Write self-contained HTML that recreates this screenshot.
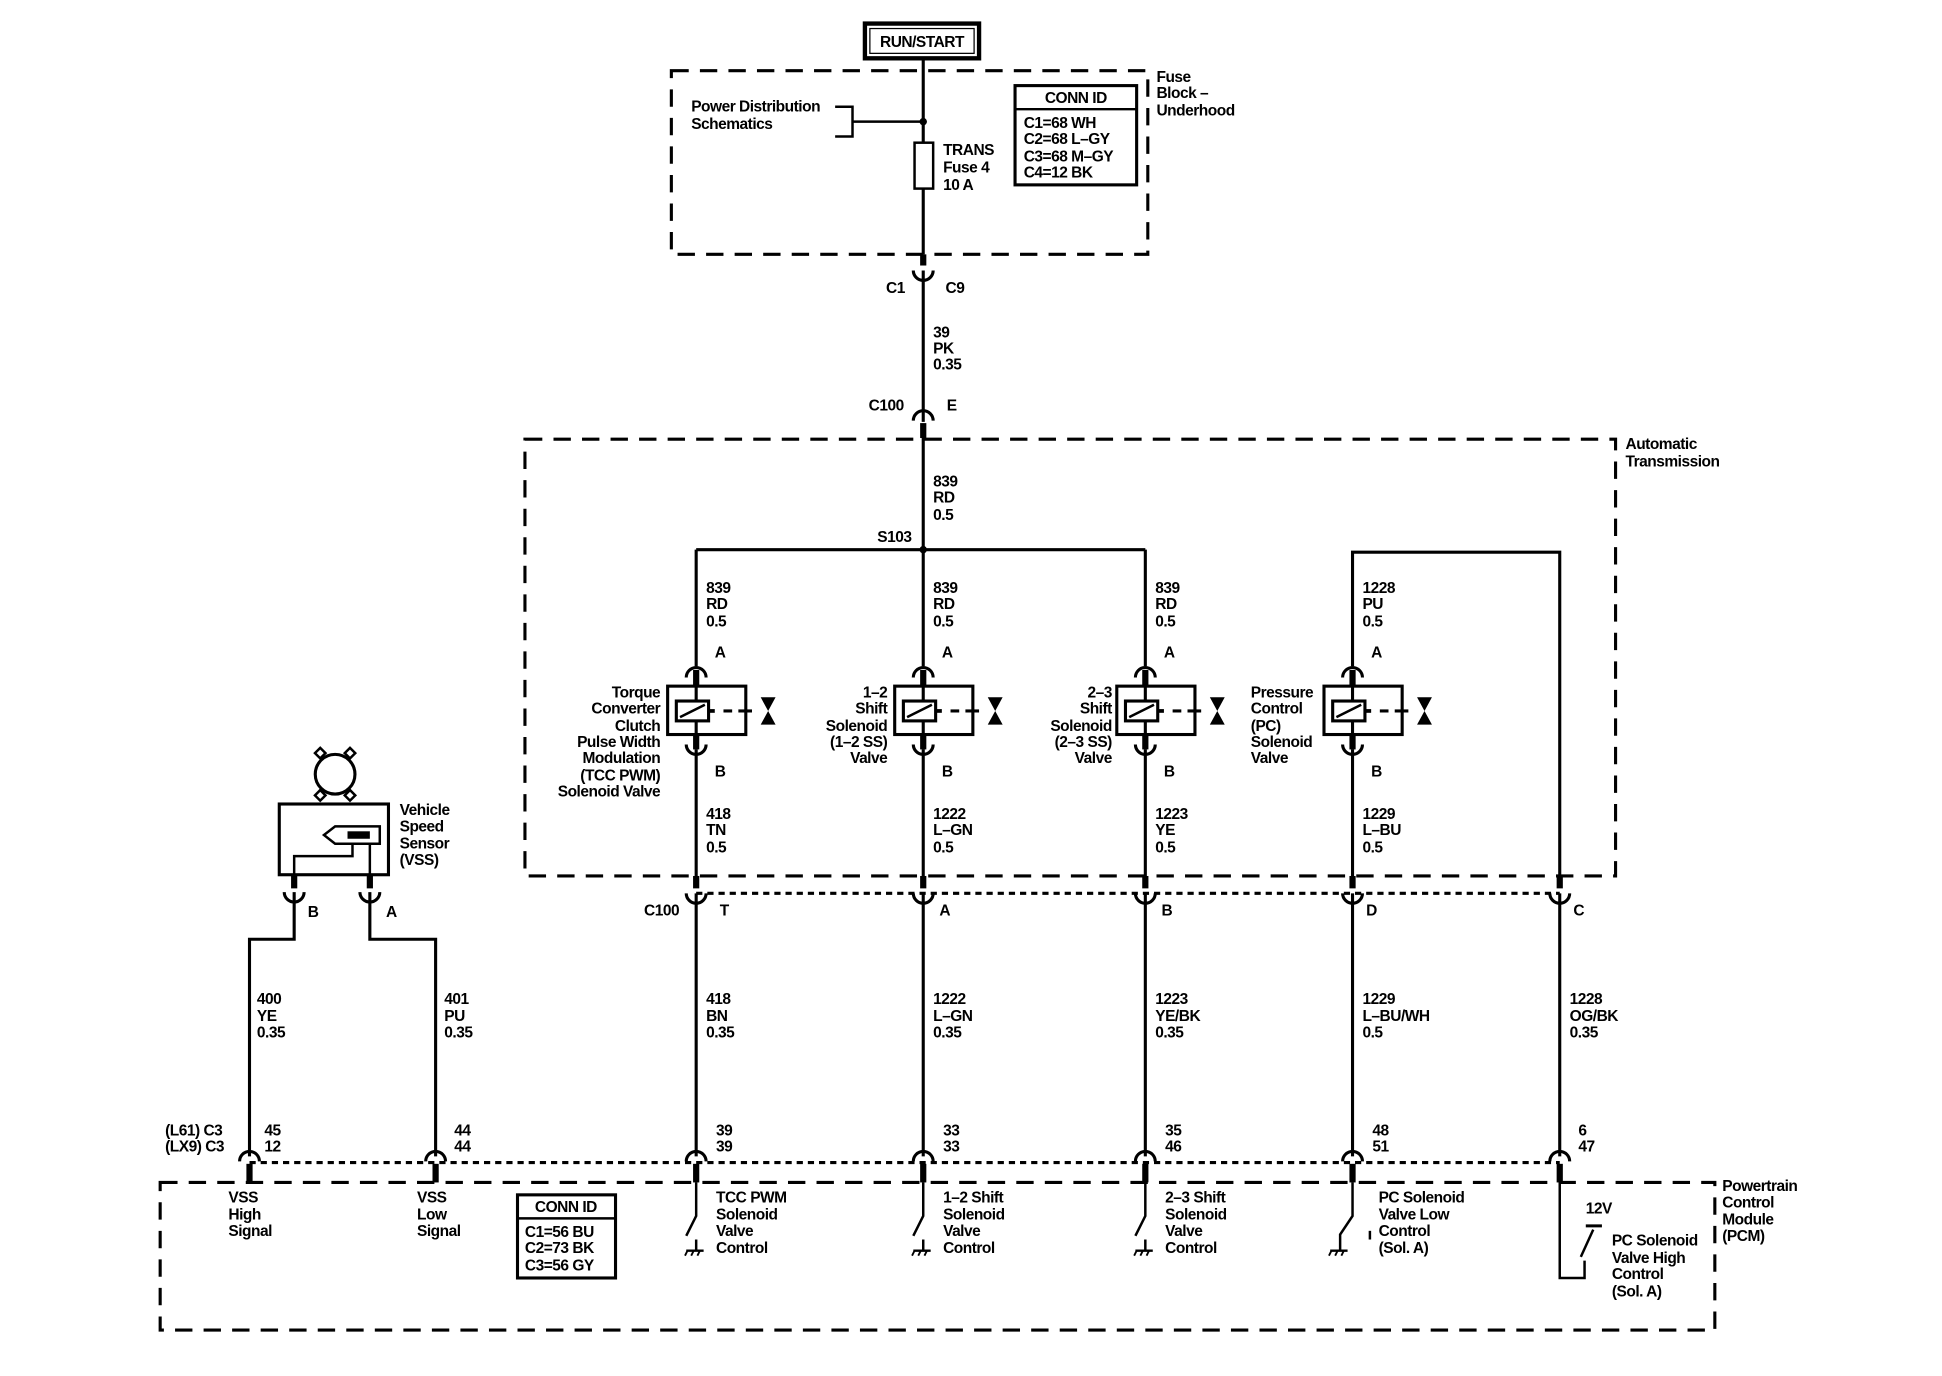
<!DOCTYPE html>
<html><head><meta charset="utf-8">
<style>
html,body{margin:0;padding:0;background:#fff;}
svg{display:block;}
text{font-family:"Liberation Sans",Arial,sans-serif;font-size:12.5px;fill:#000;font-weight:bold;letter-spacing:-0.4px;}
</style></head><body>
<svg width="1942" height="1376" viewBox="0 0 1565 1109" xmlns="http://www.w3.org/2000/svg">
<defs>
<g id="sol">
  <!-- centered at col x=0; y relative to 0 = top of A cap -->
  <path d="M-8,9 A8,8 0 0 1 8,9" fill="none" stroke="#000" stroke-width="2.5"/>
  <line x1="0" y1="3" x2="0" y2="16" stroke="#000" stroke-width="5"/>
  <rect x="-23" y="16" width="63" height="39" fill="none" stroke="#000" stroke-width="2.5"/>
  <line x1="0" y1="16" x2="0" y2="55" stroke="#000" stroke-width="2.5"/>
  <rect x="-16" y="28" width="26" height="16" fill="#fff" stroke="#000" stroke-width="2.5"/>
  <line x1="-13" y1="41" x2="7" y2="31" stroke="#000" stroke-width="2"/>
  <line x1="10" y1="36" x2="15" y2="36" stroke="#000" stroke-width="3"/>
  <line x1="22" y1="36" x2="29" y2="36" stroke="#000" stroke-width="2.5"/>
  <line x1="34" y1="36" x2="45" y2="36" stroke="#000" stroke-width="2.5"/>
  <path d="M52,25 L64,25 L58,36 Z M52,47 L64,47 L58,36 Z" fill="#000"/>
  <line x1="0" y1="55" x2="0" y2="67" stroke="#000" stroke-width="5"/>
  <path d="M-8,63 A8,8 0 0 0 8,63" fill="none" stroke="#000" stroke-width="2.5"/>
</g>
<g id="cup"><path d="M-8,-4 A8,8 0 0 0 8,-4" fill="none" stroke="#000" stroke-width="2.5"/></g>
<g id="cap"><path d="M-8,4 A8,8 0 0 1 8,4" fill="none" stroke="#000" stroke-width="2.5"/></g>
<g id="gnd"><line x1="-7" y1="0" x2="7" y2="0" stroke="#000" stroke-width="2"/><line x1="-6" y1="0" x2="-8" y2="4" stroke="#000" stroke-width="1.5"/><line x1="-1" y1="0" x2="-3" y2="4" stroke="#000" stroke-width="1.5"/><line x1="4" y1="0" x2="2" y2="4" stroke="#000" stroke-width="1.5"/></g>
</defs>

<!-- RUN/START -->
<rect x="697" y="19" width="92" height="28" fill="#fff" stroke="#000" stroke-width="3.5"/>
<rect x="701" y="23" width="84" height="20" fill="none" stroke="#000" stroke-width="1"/>
<text x="743" y="38" text-anchor="middle">RUN/START</text>

<!-- fuse block -->
<rect x="541" y="57" width="384" height="148" fill="none" stroke="#000" stroke-width="2.5" stroke-dasharray="14 9"/>
<line x1="744" y1="47" x2="744" y2="205" stroke="#000" stroke-width="2.5"/>
<text x="557" y="90">Power Distribution</text>
<text x="557" y="104">Schematics</text>
<path d="M673,86 L687,86 L687,110 L673,110 M687,98 L744,98" fill="none" stroke="#000" stroke-width="2"/>
<circle cx="744" cy="98" r="3"/>
<rect x="737" y="115" width="15" height="37" fill="#fff" stroke="#000" stroke-width="2"/>
<text x="760" y="125">TRANS</text><text x="760" y="139">Fuse 4</text><text x="760" y="153">10 A</text>
<rect x="818" y="69" width="98" height="80" fill="#fff" stroke="#000" stroke-width="2.5"/>
<line x1="818" y1="88" x2="916" y2="88" stroke="#000" stroke-width="2"/>
<text x="867" y="83" text-anchor="middle">CONN ID</text>
<text x="825" y="103">C1=68 WH</text><text x="825" y="116">C2=68 L–GY</text><text x="825" y="130">C3=68 M–GY</text><text x="825" y="143">C4=12 BK</text>
<text x="932" y="66">Fuse</text><text x="932" y="79">Block –</text><text x="932" y="93">Underhood</text>

<!-- C1 / C9 -->
<line x1="744" y1="205" x2="744" y2="214" stroke="#000" stroke-width="5"/>
<use href="#cup" x="744" y="222"/>
<line x1="744" y1="218" x2="744" y2="340" stroke="#000" stroke-width="2.5"/>
<text x="714" y="236">C1</text><text x="762" y="236">C9</text>
<text x="752" y="272">39</text><text x="752" y="285">PK</text><text x="752" y="298">0.35</text>
<text x="700" y="331">C100</text><text x="763" y="331">E</text>
<use href="#cap" x="744" y="335"/>
<line x1="744" y1="341" x2="744" y2="353" stroke="#000" stroke-width="5"/>

<!-- Automatic transmission -->
<rect x="423" y="354" width="879" height="352" fill="none" stroke="#000" stroke-width="2.5" stroke-dasharray="14 9"/>
<text x="1310" y="362">Automatic</text><text x="1310" y="376">Transmission</text>
<line x1="744" y1="353" x2="744" y2="537" stroke="#000" stroke-width="2.5"/>
<text x="752" y="392">839</text><text x="752" y="405">RD</text><text x="752" y="419">0.5</text>
<text x="707" y="437">S103</text>
<line x1="561" y1="443" x2="923" y2="443" stroke="#000" stroke-width="2.5"/>
<circle cx="744" cy="443" r="3"/>
<line x1="561" y1="443" x2="561" y2="537" stroke="#000" stroke-width="2.5"/>
<line x1="923" y1="443" x2="923" y2="537" stroke="#000" stroke-width="2.5"/>
<path d="M1090,537 L1090,445 L1257,445 L1257,712" fill="none" stroke="#000" stroke-width="2.5"/>

<g>
<text x="569" y="478">839</text><text x="569" y="491">RD</text><text x="569" y="505">0.5</text>
<text x="752" y="478">839</text><text x="752" y="491">RD</text><text x="752" y="505">0.5</text>
<text x="931" y="478">839</text><text x="931" y="491">RD</text><text x="931" y="505">0.5</text>
<text x="1098" y="478">1228</text><text x="1098" y="491">PU</text><text x="1098" y="505">0.5</text>
</g>
<text x="576" y="530">A</text><text x="759" y="530">A</text><text x="938" y="530">A</text><text x="1105" y="530">A</text>
<use href="#sol" x="561" y="537"/><use href="#sol" x="744" y="537"/><use href="#sol" x="923" y="537"/><use href="#sol" x="1090" y="537"/>
<text x="576" y="626">B</text><text x="759" y="626">B</text><text x="938" y="626">B</text><text x="1105" y="626">B</text>

<g text-anchor="end">
<text x="532" y="562">Torque</text><text x="532" y="575">Converter</text><text x="532" y="589">Clutch</text><text x="532" y="602">Pulse Width</text><text x="532" y="615">Modulation</text><text x="532" y="629">(TCC PWM)</text><text x="532" y="642">Solenoid Valve</text>
<text x="715" y="562">1–2</text><text x="715" y="575">Shift</text><text x="715" y="589">Solenoid</text><text x="715" y="602">(1–2 SS)</text><text x="715" y="615">Valve</text>
<text x="896" y="562">2–3</text><text x="896" y="575">Shift</text><text x="896" y="589">Solenoid</text><text x="896" y="602">(2–3 SS)</text><text x="896" y="615">Valve</text>
</g>
<text x="1008" y="562">Pressure</text><text x="1008" y="575">Control</text><text x="1008" y="589">(PC)</text><text x="1008" y="602">Solenoid</text><text x="1008" y="615">Valve</text>

<g stroke="#000" stroke-width="2.5">
<line x1="561" y1="604" x2="561" y2="706"/><line x1="744" y1="604" x2="744" y2="706"/><line x1="923" y1="604" x2="923" y2="706"/><line x1="1090" y1="604" x2="1090" y2="706"/>
</g>
<text x="569" y="660">418</text><text x="569" y="673">TN</text><text x="569" y="687">0.5</text>
<text x="752" y="660">1222</text><text x="752" y="673">L–GN</text><text x="752" y="687">0.5</text>
<text x="931" y="660">1223</text><text x="931" y="673">YE</text><text x="931" y="687">0.5</text>
<text x="1098" y="660">1229</text><text x="1098" y="673">L–BU</text><text x="1098" y="687">0.5</text>

<!-- C100 lower row -->
<line x1="561" y1="720" x2="1257" y2="720" stroke="#000" stroke-width="2.5" stroke-dasharray="5 4"/>
<g stroke="#000" stroke-width="5">
<line x1="561" y1="706" x2="561" y2="716"/><line x1="744" y1="706" x2="744" y2="716"/><line x1="923" y1="706" x2="923" y2="716"/><line x1="1090" y1="706" x2="1090" y2="716"/><line x1="1257" y1="706" x2="1257" y2="716"/>
</g>
<use href="#cup" x="561" y="724"/><use href="#cup" x="744" y="724"/><use href="#cup" x="923" y="724"/><use href="#cup" x="1090" y="724"/><use href="#cup" x="1257" y="724"/>
<text x="519" y="738">C100</text><text x="580" y="738">T</text><text x="757" y="738">A</text><text x="936" y="738">B</text><text x="1101" y="738">D</text><text x="1268" y="738">C</text>
<g stroke="#000" stroke-width="2.5">
<line x1="561" y1="720" x2="561" y2="932"/><line x1="744" y1="720" x2="744" y2="932"/><line x1="923" y1="720" x2="923" y2="932"/><line x1="1090" y1="720" x2="1090" y2="932"/><line x1="1257" y1="720" x2="1257" y2="932"/>
</g>
<text x="569" y="809">418</text><text x="569" y="823">BN</text><text x="569" y="836">0.35</text>
<text x="752" y="809">1222</text><text x="752" y="823">L–GN</text><text x="752" y="836">0.35</text>
<text x="931" y="809">1223</text><text x="931" y="823">YE/BK</text><text x="931" y="836">0.35</text>
<text x="1098" y="809">1229</text><text x="1098" y="823">L–BU/WH</text><text x="1098" y="836">0.5</text>
<text x="1265" y="809">1228</text><text x="1265" y="823">OG/BK</text><text x="1265" y="836">0.35</text>

<!-- VSS -->
<circle cx="270" cy="624" r="16" fill="none" stroke="#000" stroke-width="2.5"/>
<g fill="#fff" stroke="#000" stroke-width="2">
<rect x="255" y="604" width="6" height="6" transform="rotate(45 258 607)"/>
<rect x="279" y="604" width="6" height="6" transform="rotate(45 282 607)"/>
<rect x="255" y="638" width="6" height="6" transform="rotate(45 258 641)"/>
<rect x="279" y="638" width="6" height="6" transform="rotate(45 282 641)"/>
</g>
<rect x="225" y="648" width="88" height="57" fill="none" stroke="#000" stroke-width="2.5"/>
<path d="M306,666 L270,666 L261,673 L270,680 L306,680 Z" fill="none" stroke="#000" stroke-width="2"/>
<rect x="280" y="670" width="18" height="6" fill="#000"/>
<path d="M298,680 L298,705 M284,680 L284,690 L237,690 L237,705" fill="none" stroke="#000" stroke-width="2"/>
<text x="322" y="657">Vehicle</text><text x="322" y="670">Speed</text><text x="322" y="684">Sensor</text><text x="322" y="697">(VSS)</text>
<g stroke="#000" stroke-width="5"><line x1="237" y1="705" x2="237" y2="716"/><line x1="298" y1="705" x2="298" y2="716"/></g>
<use href="#cup" x="237" y="723"/><use href="#cup" x="298" y="723"/>
<text x="248" y="739">B</text><text x="311" y="739">A</text>
<path d="M237,719 L237,757 L201,757 L201,932 M298,719 L298,757 L351,757 L351,932" fill="none" stroke="#000" stroke-width="2.5"/>
<text x="207" y="809">400</text><text x="207" y="823">YE</text><text x="207" y="836">0.35</text>
<text x="358" y="809">401</text><text x="358" y="823">PU</text><text x="358" y="836">0.35</text>

<!-- PCM connectors -->
<line x1="201" y1="937" x2="1257" y2="937" stroke="#000" stroke-width="2.5" stroke-dasharray="5 4"/>
<text x="133" y="915">(L61) C3</text><text x="133" y="928">(LX9) C3</text>
<text x="213" y="915">45</text><text x="213" y="928">12</text>
<text x="366" y="915">44</text><text x="366" y="928">44</text>
<text x="577" y="915">39</text><text x="577" y="928">39</text>
<text x="760" y="915">33</text><text x="760" y="928">33</text>
<text x="939" y="915">35</text><text x="939" y="928">46</text>
<text x="1106" y="915">48</text><text x="1106" y="928">51</text>
<text x="1272" y="915">6</text><text x="1272" y="928">47</text>
<g>
<use href="#cap" x="201" y="932"/><use href="#cap" x="351" y="932"/><use href="#cap" x="561" y="932"/><use href="#cap" x="744" y="932"/><use href="#cap" x="923" y="932"/><use href="#cap" x="1090" y="932"/><use href="#cap" x="1257" y="932"/>
</g>
<g stroke="#000" stroke-width="5">
<line x1="201" y1="938" x2="201" y2="953"/><line x1="351" y1="938" x2="351" y2="953"/><line x1="561" y1="938" x2="561" y2="953"/><line x1="744" y1="938" x2="744" y2="953"/><line x1="923" y1="938" x2="923" y2="953"/><line x1="1090" y1="938" x2="1090" y2="953"/><line x1="1257" y1="938" x2="1257" y2="953"/>
</g>

<!-- PCM box -->
<rect x="129" y="953" width="1253" height="119" fill="none" stroke="#000" stroke-width="2.5" stroke-dasharray="14 9"/>
<text x="1388" y="960">Powertrain</text><text x="1388" y="973">Control</text><text x="1388" y="987">Module</text><text x="1388" y="1000">(PCM)</text>
<text x="184" y="969">VSS</text><text x="184" y="983">High</text><text x="184" y="996">Signal</text>
<text x="336" y="969">VSS</text><text x="336" y="983">Low</text><text x="336" y="996">Signal</text>
<rect x="417" y="963" width="79" height="67" fill="none" stroke="#000" stroke-width="2.5"/>
<line x1="417" y1="982" x2="496" y2="982" stroke="#000" stroke-width="2"/>
<text x="456" y="977" text-anchor="middle">CONN ID</text>
<text x="423" y="997">C1=56 BU</text><text x="423" y="1010">C2=73 BK</text><text x="423" y="1024">C3=56 GY</text>

<!-- switches -->
<g stroke="#000" stroke-width="2" fill="none">
<path d="M561,953 L561,980 L553,996"/><path d="M744,953 L744,980 L736,996"/><path d="M923,953 L923,980 L915,996"/>
<path d="M1090,953 L1090,980 L1080,995 L1080,1008"/>
<line x1="1104" y1="992" x2="1104" y2="999"/>
<path d="M1257,953 L1257,1030 L1277,1030 L1277,1016"/>
<line x1="1274" y1="1013" x2="1284" y2="991"/>
<line x1="1278" y1="988" x2="1291" y2="988" stroke-width="2.5"/>
</g>
<use href="#gnd" x="560" y="1008"/><use href="#gnd" x="743" y="1008"/><use href="#gnd" x="922" y="1008"/><use href="#gnd" x="1079" y="1008"/>
<g stroke="#000" stroke-width="2"><line x1="561" y1="999" x2="561" y2="1008"/><line x1="744" y1="999" x2="744" y2="1008"/><line x1="923" y1="999" x2="923" y2="1008"/></g>
<text x="577" y="969">TCC PWM</text><text x="577" y="983">Solenoid</text><text x="577" y="996">Valve</text><text x="577" y="1010">Control</text>
<text x="760" y="969">1–2 Shift</text><text x="760" y="983">Solenoid</text><text x="760" y="996">Valve</text><text x="760" y="1010">Control</text>
<text x="939" y="969">2–3 Shift</text><text x="939" y="983">Solenoid</text><text x="939" y="996">Valve</text><text x="939" y="1010">Control</text>
<text x="1111" y="969">PC Solenoid</text><text x="1111" y="983">Valve Low</text><text x="1111" y="996">Control</text><text x="1111" y="1010">(Sol. A)</text>
<text x="1278" y="978">12V</text>
<text x="1299" y="1004">PC Solenoid</text><text x="1299" y="1018">Valve High</text><text x="1299" y="1031">Control</text><text x="1299" y="1045">(Sol. A)</text>
</svg>
</body></html>
